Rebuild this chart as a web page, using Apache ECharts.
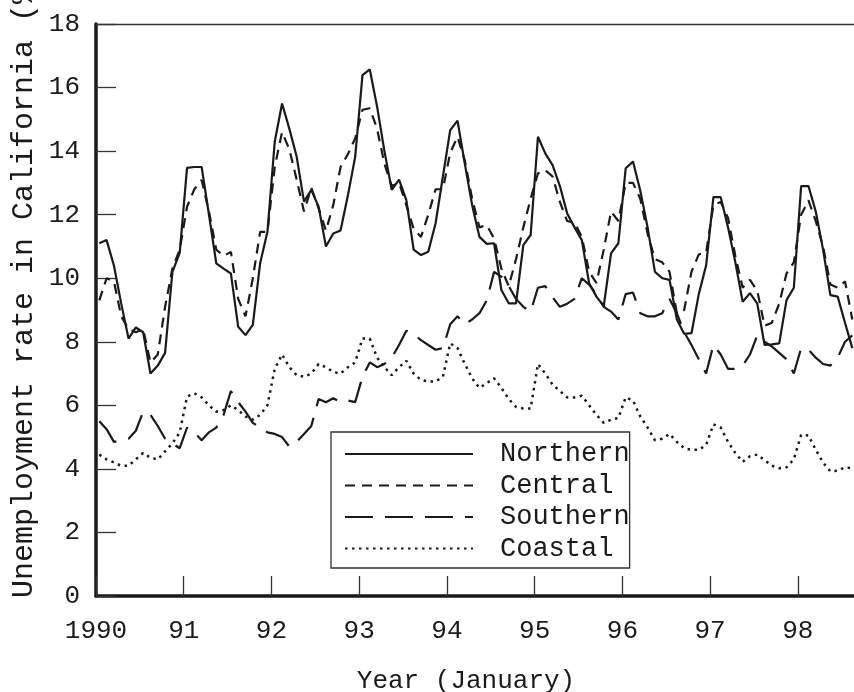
<!DOCTYPE html>
<html>
<head>
<meta charset="utf-8">
<script src="https://cdn.jsdelivr.net/npm/echarts@6/dist/echarts.min.js"></script>
<style>
  html, body { margin: 0; padding: 0; background: #ffffff; }
  #chart { width: 854px; height: 692px; }
</style>
</head>
<body>
<div id="chart"></div>
<script>
// monthly unemployment rate, Jan 1990 .. Aug 1998
var seriesNames = ['Northern', 'Central', 'Southern', 'Coastal']
var yearTicks = ['1990', '91', '92', '93', '94', '95', '96', '97', '98']

var northern = [
  11.1, 11.2, 10.4, 9.2, 8.1, 8.45, 8.3, 7.0, 7.25, 7.65, 10.2, 10.8,
  13.47, 13.5, 13.5, 12.0, 10.47, 10.3, 10.15, 8.47, 8.21, 8.53, 10.47, 11.46,
  14.3, 15.5, 14.7, 13.82, 12.41, 12.78, 12.25, 11.0, 11.41, 11.5, 12.6, 13.82,
  16.39, 16.57, 15.4, 14.0, 12.78, 13.1, 12.46, 10.9, 10.73, 10.83, 11.73, 13.2,
  14.66, 14.96, 13.6, 12.3, 11.3, 11.08, 11.1, 9.63, 9.21, 9.21, 11.04, 11.36,
  14.45, 13.93, 13.56, 12.9, 12.04, 11.6, 11.2, 9.84, 9.42, 9.12, 10.78, 11.1,
  13.46, 13.67, 12.75, 11.6, 10.2, 10.0, 9.95, 8.7, 8.25, 8.27, 9.5, 10.4,
  12.55, 12.55, 11.6, 10.5, 9.26, 9.53, 9.2, 7.9, 7.92, 7.95, 9.31, 9.7,
  12.9, 12.9, 12.1, 10.9, 9.47, 9.42, 8.6, 7.8
]
var central = [
  9.3, 10.0, 9.9, 8.8, 8.4, 8.3, 8.4, 7.35, 7.6, 9.1, 10.3, 10.9,
  12.25, 12.8, 13.09, 12.1, 10.9, 10.7, 10.83, 9.35, 8.8, 10.0, 11.46, 11.46,
  13.5, 14.6, 14.05, 13.1, 12.1, 12.85, 12.2, 11.5, 12.3, 13.5, 13.9, 14.4,
  15.3, 15.35, 14.7, 13.6, 12.9, 13.0, 12.3, 11.55, 11.3, 12.0, 12.8, 12.8,
  13.95, 14.45, 13.7, 12.5, 11.6, 11.67, 11.25, 10.3, 9.75, 10.6, 11.6, 12.5,
  13.3, 13.4, 13.2, 12.4, 11.8, 11.75, 11.3, 10.2, 9.85, 10.9, 12.1, 11.8,
  13.0, 13.0, 12.5, 11.4, 10.6, 10.5, 10.2, 8.9, 9.0, 10.2, 10.75, 10.8,
  12.3, 12.4, 11.9, 10.7, 9.7, 9.95, 9.6, 8.5, 8.6, 9.2, 10.15, 10.5,
  12.0, 12.45, 11.8, 11.0, 9.8, 9.7, 9.9, 8.7
]
var southern = [
  5.5, 5.25, 4.85, 4.9, 4.95, 5.2, 5.8, 5.7, 5.35, 4.95, 4.8, 4.65,
  5.3, 5.15, 4.9, 5.15, 5.3, 5.7, 6.45, 6.1, 5.8, 5.45, 5.3, 5.15,
  5.1, 5.0, 4.7, 4.85, 5.1, 5.35, 6.2, 6.1, 6.22, 6.1, 6.15, 6.1,
  6.9, 7.35, 7.2, 7.3, 7.5, 7.9, 8.35, 8.25, 8.05, 7.9, 7.75, 7.8,
  8.55, 8.8, 8.55, 8.7, 8.9, 9.3, 10.2, 10.05, 9.75, 9.35, 9.1, 8.95,
  9.7, 9.75, 9.4, 9.1, 9.2, 9.35, 10.0, 9.8, 9.5, 9.1, 8.95, 8.7,
  9.5, 9.55, 8.9, 8.8, 8.8, 8.9, 9.35, 8.9, 8.3, 7.9, 7.45, 7.0,
  7.9, 7.6, 7.15, 7.15, 7.25, 7.6, 8.2, 8.0, 7.85, 7.65, 7.45, 7.0,
  7.8, 7.75, 7.5, 7.3, 7.25, 7.5, 8.0, 8.2
]
var coastal = [
  4.45, 4.3, 4.2, 4.1, 4.1, 4.3, 4.5, 4.35, 4.3, 4.55, 4.8, 5.15,
  6.27, 6.38, 6.25, 6.0, 5.8, 5.85, 6.0, 5.85, 5.65, 5.55, 5.7, 6.0,
  7.15, 7.6, 7.2, 6.95, 6.9, 7.0, 7.3, 7.2, 7.05, 7.0, 7.2, 7.35,
  8.1, 8.1, 7.5, 7.2, 6.95, 7.2, 7.4, 7.0, 6.8, 6.75, 6.75, 6.9,
  7.95, 7.8, 7.3, 6.85, 6.55, 6.7, 6.85, 6.55, 6.2, 5.95, 5.9, 5.9,
  7.3, 7.0, 6.65, 6.45, 6.25, 6.25, 6.3, 6.0, 5.7, 5.45, 5.55, 5.6,
  6.25, 6.15, 5.65, 5.3, 4.9, 4.95, 5.1, 4.85, 4.65, 4.6, 4.6, 4.75,
  5.4, 5.3, 4.85, 4.5, 4.22, 4.4, 4.45, 4.27, 4.1, 4.02, 4.05, 4.3,
  5.07, 5.05, 4.6, 4.2, 3.92, 3.94, 4.05, 4.02
]

var FONT = 'Liberation Mono, Courier New, monospace'
var INK = '#1a1a1a'

// month index -> year position (values sit mid-month)
function toPoints(values) {
  return values.map(function (v, i) {
    return [1990 + (i + 0.45) / 12, v]
  })
}

var chart = echarts.init(document.getElementById('chart'))

function lineSeries(name, values, dash, width) {
  return {
    name: name,
    type: 'line',
    data: toPoints(values),
    symbol: 'none',
    animation: false,
    lineStyle: { color: INK, width: width || 2.2, type: dash, cap: 'butt' },
    itemStyle: { color: INK }
  }
}

var option = {
  backgroundColor: '#ffffff',
  grid: { left: 96, right: 0, top: 24, bottom: 96, outerBoundsMode: 'none', containLabel: false },
  legend: {
    orient: 'vertical',
    left: 331,
    top: 432,
    itemWidth: 128,
    itemHeight: 20,
    itemGap: 4.5,
    padding: [8.5, 0, 6, 13],
    borderColor: '#333',
    borderWidth: 1.3,
    backgroundColor: '#ffffff',
    itemStyle: { opacity: 0 },
    textStyle: { fontFamily: FONT, fontSize: 27, color: INK, padding: [0, 0, 0, 22] },
    data: seriesNames
  },
  xAxis: [
    {
      type: 'value',
      min: 1990,
      max: 1998.64,
      interval: 1,
      name: 'Year (January)',
      nameLocation: 'middle',
      nameGap: 72,
      nameTextStyle: { fontFamily: FONT, fontSize: 26, color: INK, padding: [0, 18, 0, 0] },
      axisLine: { lineStyle: { color: INK, width: 3.5 } },
      axisTick: { inside: true, length: 20, lineStyle: { color: '#333', width: 1.3 } },
      axisLabel: {
        margin: 22,
        fontFamily: FONT,
        fontSize: 26,
        color: INK,
        showMaxLabel: false,
        formatter: function (v) {
          return yearTicks[Math.round(v - 1990)] || ''
        }
      },
      splitLine: { show: false }
    },
    {
      type: 'value',
      position: 'top',
      min: 1990,
      max: 1998.64,
      axisLine: { lineStyle: { color: '#333', width: 1.3 } },
      axisTick: { show: false },
      axisLabel: { show: false },
      splitLine: { show: false }
    }
  ],
  yAxis: {
    type: 'value',
    min: 0,
    max: 18,
    interval: 2,
    axisLine: { show: true, lineStyle: { color: INK, width: 3.5 } },
    axisTick: { show: true, inside: true, length: 20, lineStyle: { color: '#333', width: 1.3 } },
    axisLabel: { margin: 16, fontFamily: FONT, fontSize: 26, color: INK },
    splitLine: { show: false }
  },
  graphic: [
    {
      type: 'text',
      x: 24,
      y: 598,
      rotation: Math.PI / 2,
      style: {
        text: 'Unemployment rate in California (%)',
        font: '30px ' + FONT,
        fill: INK,
        textAlign: 'left',
        textVerticalAlign: 'middle'
      }
    }
  ],
  series: [
    lineSeries('Northern', northern, 'solid'),
    lineSeries('Central', central, [10, 7]),
    lineSeries('Southern', southern, [28, 12]),
    lineSeries('Coastal', coastal, [2.5, 4.5], 2.5)
  ]
}

chart.setOption(option)
</script>
</body>
</html>
